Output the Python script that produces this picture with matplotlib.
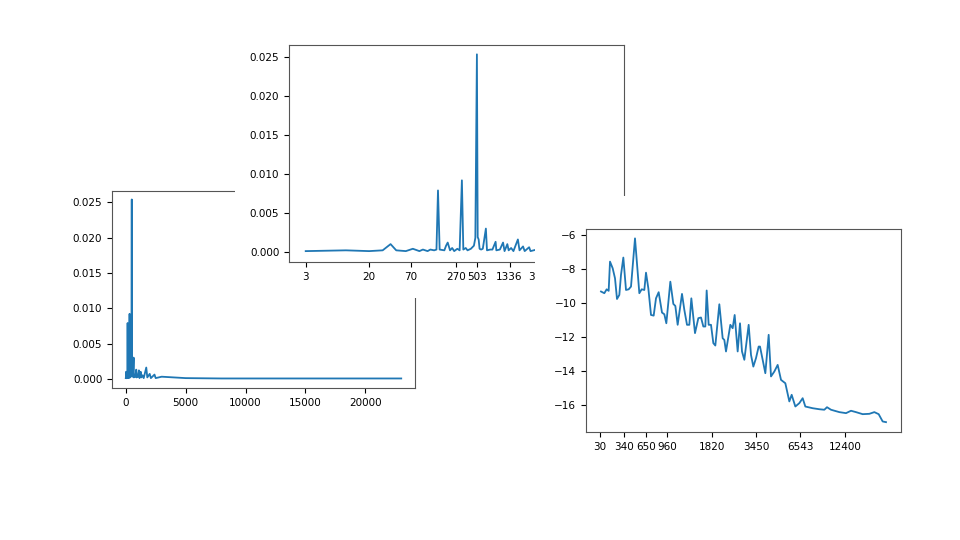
"""Three overlapping spectrum plots, as pasted on a slide."""

import matplotlib

matplotlib.use("Agg")
import matplotlib.pyplot as plt  # noqa: E402
from matplotlib.patches import Rectangle  # noqa: E402

# power spectrum: frequency (Hz) -> magnitude
spec_freq = [3, 10, 20, 30, 38, 45, 60, 74, 90, 100, 115, 125, 140, 150, 157, 165,
             190, 200, 210, 225, 240, 255, 280, 300, 321, 335, 360, 380, 420, 460,
             480, 503, 515, 530, 545, 570, 600, 658, 680, 750, 800, 880, 900, 1000,
             1100, 1150, 1250, 1300, 1400, 1500, 1714, 1800, 2000, 2100, 2400, 2500,
             3000, 4000, 5000, 8000, 23000]
spec_val = [0.0001, 0.0002, 0.0001, 0.0002, 0.0010, 0.0002, 0.0001, 0.0004, 0.0001,
            0.0003, 0.0001, 0.0003, 0.0002, 0.0003, 0.0079, 0.0003, 0.0002, 0.0008,
            0.0012, 0.0002, 0.0005, 0.0001, 0.0004, 0.0002, 0.0092, 0.0003, 0.0005,
            0.0002, 0.0004, 0.0008, 0.0018, 0.0254, 0.0019, 0.0016, 0.0004, 0.0003,
            0.0004, 0.0030, 0.0002, 0.0003, 0.0003, 0.0013, 0.0002, 0.0003, 0.0012,
            0.0001, 0.0010, 0.0002, 0.0005, 0.0001, 0.0016, 0.0002, 0.0007, 0.0001,
            0.0006, 0.0001, 0.0003, 0.0002, 0.0001, 0.00005, 0.00005]
log_ticks = [3, 20, 70, 270, 503, 1336, 3500]

# log-energy per band (band position, value)
band_pos = [45, 55, 62, 68, 72, 80, 87, 93, 100, 105, 112, 120, 128, 135, 147, 160,
            167, 175, 180, 187, 195, 203, 210, 218, 228, 235, 241, 253, 262, 268,
            275, 288, 295, 303, 310, 316, 327, 337, 345, 352, 358, 362, 368, 375,
            382, 388, 400, 410, 415, 420, 433, 440, 446, 455, 462, 468, 475, 488,
            495, 502, 510, 518, 522, 530, 538, 548, 555, 565, 575, 585, 598, 610,
            617, 628, 640, 650, 658, 680, 700, 715, 723, 735, 760, 780, 795, 810,
            830, 850, 865, 878, 890, 900]
band_val = [-9.33, -9.43, -9.20, -9.29, -7.57, -7.96, -8.55, -9.77, -9.53, -8.35,
            -7.33, -9.24, -9.20, -9.04, -6.20, -9.43, -9.20, -9.24, -8.22, -9.14,
            -10.71, -10.75, -9.73, -9.37, -10.57, -10.67, -11.20, -8.75, -10.06,
            -10.18, -11.29, -9.47, -10.41, -11.29, -11.29, -9.73, -11.78, -10.90,
            -10.86, -11.39, -11.39, -9.27, -11.29, -11.29, -12.37, -12.51, -10.08,
            -12.08, -12.18, -12.86, -11.29, -11.49, -10.71, -12.86, -11.20, -12.86,
            -13.35, -11.29, -13.06, -13.75, -13.25, -12.57, -12.57, -13.35, -14.14,
            -11.88, -14.33, -14.04, -13.65, -14.53, -14.73, -15.80, -15.41, -16.10,
            -15.90, -15.61, -16.10, -16.20, -16.26, -16.29, -16.14, -16.29, -16.43,
            -16.49, -16.35, -16.43, -16.55, -16.53, -16.43, -16.55, -16.98, -17.02]
band_tick_pos = [42, 114, 180, 243, 378, 510, 642, 777]
band_tick_lbl = ["30", "340", "650", "960", "1820", "3450", "6543", "12400"]

W, H = 960, 540
FS = 7.5


def box(x0, y0, x1, y1):
    """Pixel box (top-left origin) -> figure fraction rect."""
    return [x0 / W, 1 - y1 / H, (x1 - x0) / W, (y1 - y0) / H]


def cover(x0, y0, x1, y1, z):
    """White patch standing for the background of a pasted image."""
    r = box(x0, y0, x1, y1)
    fig.add_artist(Rectangle(r[:2], r[2], r[3], transform=fig.transFigure,
                             facecolor="white", edgecolor="none", zorder=z))


fig = plt.figure(figsize=(9.6, 5.4), dpi=100)

# left: linear frequency
ax1 = fig.add_axes(box(112, 191, 415, 388), zorder=1)
ax1.plot(spec_freq, spec_val, color="#1f77b4", lw=1.3)
ax1.set_ylim(-0.0013, 0.0266)
ax1.set_xticks([0, 5000, 10000, 15000, 20000])
ax1.tick_params(labelsize=FS)

# top: log frequency, drawn over the left one
cover(235, 0, 960, 298, 2)
ax2 = fig.add_axes(box(289, 45, 624, 262), zorder=3)
ax2.plot(spec_freq, spec_val, color="#1f77b4", lw=1.3)
ax2.set_xscale("log")
ax2.set_xlim(1.82, 41000)
ax2.set_ylim(-0.0013, 0.0266)
ax2.set_xticks(log_ticks)
ax2.set_xticklabels([str(t) for t in log_ticks])
ax2.minorticks_off()
ax2.tick_params(labelsize=FS)

# right: band energies, on top of everything
cover(535, 196, 960, 540, 4)
ax3 = fig.add_axes(box(586, 229, 901, 432), zorder=5)
ax3.plot(band_pos, band_val, color="#1f77b4", lw=1.3)
ax3.set_xlim(0, 945)
ax3.set_ylim(-17.6, -5.65)
ax3.set_xticks(band_tick_pos)
ax3.set_xticklabels(band_tick_lbl)
ax3.tick_params(labelsize=FS)

for ax in (ax1, ax2, ax3):
    for s in ax.spines.values():
        s.set_color("#555555")

fig.savefig("out.png", dpi=100)
plt.close(fig)
